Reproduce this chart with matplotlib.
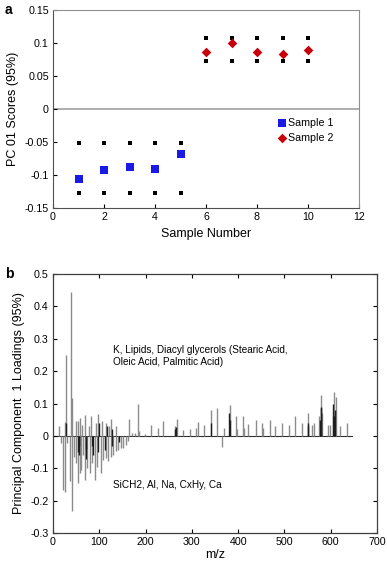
import numpy as np
import matplotlib
matplotlib.use("Agg")
import matplotlib.pyplot as plt

plt.rcParams['font.family'] = ['Liberation Sans', 'DejaVu Sans']
plt.rcParams['axes.unicode_minus'] = False

# panel a: PC 01 scores
s1_x = [1, 2, 3, 4, 5]
s1_y = [-0.106, -0.093, -0.088, -0.091, -0.068]
s1_hi = [-0.051, -0.051, -0.051, -0.051, -0.051]
s1_lo = [-0.128, -0.128, -0.128, -0.128, -0.128]

s2_x = [6, 7, 8, 9, 10]
s2_y = [0.086, 0.100, 0.087, 0.083, 0.089]
s2_hi = [0.107, 0.107, 0.107, 0.107, 0.107]
s2_lo = [0.072, 0.072, 0.072, 0.072, 0.072]

a_yticks = [-0.15, -0.1, -0.05, 0, 0.05, 0.1, 0.15]
a_ylabels = ['-0.15', '-0.1', '-0.05', '0', '0.05', '0.1', '0.15']

# panel b: PC 1 loadings (m/z, loading)
mz_gray = [13, 18, 22, 26, 27, 29, 31, 36, 39, 41, 42, 45, 49, 49, 53, 55, 58,
           58, 61, 63, 65, 69, 70, 74, 77, 79, 83, 84, 90, 92, 96, 97, 103, 105,
           108, 114, 114, 119, 120, 125, 126, 130, 136, 137, 141, 146, 152, 157,
           163, 164, 170, 177, 183, 186, 198, 211, 226, 238, 264, 267, 280, 297,
           310, 314, 326, 341, 355, 366, 369, 382, 395, 398, 410, 413, 422, 439,
           451, 454, 468, 480, 494, 509, 523, 538, 552, 560, 564, 575, 579, 582,
           595, 598, 604, 608, 611, 621, 635]
load_gray = [0.032, -0.023, -0.167, -0.172, 0.042, 0.25, -0.022, -0.14, 0.445,
             -0.233, 0.118, -0.064, 0.045, -0.084, -0.146, 0.045, -0.115, 0.055,
             -0.105, 0.035, -0.058, -0.136, 0.065, -0.10, 0.03, -0.115, 0.06,
             -0.084, -0.136, 0.04, -0.095, 0.068, -0.115, 0.045, -0.074, 0.04,
             -0.069, -0.079, 0.03, -0.064, 0.052, -0.059, -0.048, 0.03, -0.043,
             -0.038, -0.038, -0.028, -0.017, 0.052, 0.01, 0.008, 0.1, 0.015,
             0.006, 0.034, 0.024, 0.046, 0.029, 0.052, 0.019, 0.02, 0.024, 0.044,
             0.034, 0.08, 0.085, -0.033, 0.024, 0.095, 0.06, 0.02, 0.062, 0.025,
             0.036, 0.05, 0.04, 0.025, 0.05, 0.029, 0.04, 0.034, 0.06, 0.04, 0.07,
             0.035, 0.04, 0.06, 0.125, 0.07, 0.034, 0.033, 0.06, 0.135, 0.12,
             0.029, 0.04]
mz_dark = [28, 54, 56, 57, 71, 72, 84, 86, 98, 100, 112, 116, 127, 128, 142,
           264, 265, 341, 381, 382, 550, 551, 577, 578, 580, 606, 607, 609]
load_dark = [0.04, -0.05, -0.06, -0.03, -0.07, -0.04, -0.03, -0.06, -0.05, 0.04,
             -0.045, 0.03, -0.03, 0.02, -0.02, 0.02, 0.028, 0.04, 0.07, 0.05,
             0.04, 0.03, 0.05, 0.09, 0.085, 0.1, 0.06, 0.08]

W, H = 387, 562
fig = plt.figure(figsize=(W / 100, H / 100), dpi=100)

# ---- panel a
ax = fig.add_axes([53 / W, 1 - 208 / H, 306 / W, 198 / H])
ax.axhline(0, color='#a0a0a0', lw=1.2, zorder=1)
for xs, ys in [(s1_x, s1_hi), (s1_x, s1_lo), (s2_x, s2_hi), (s2_x, s2_lo)]:
    ax.scatter(xs, ys, s=6, marker='s', color='black', linewidths=0, zorder=3)
ax.scatter(s1_x, s1_y, s=26, marker='s', color='#1a1ae6', label='Sample 1',
           linewidths=0, zorder=4)
ax.scatter(s2_x, s2_y, s=24, marker='D', color='#c8000a', label='Sample 2',
           linewidths=0, zorder=4)
ax.set_xlim(0, 12)
ax.set_ylim(-0.15, 0.15)
ax.set_xticks(range(0, 13, 2))
ax.set_yticks(a_yticks)
ax.set_yticklabels(a_ylabels)
ax.tick_params(labelsize=7.7, length=3, width=0.8, direction='in', pad=3)
for side in ['top', 'right']:
    ax.spines[side].set_color('#909090')
for side in ['left', 'bottom']:
    ax.spines[side].set_color('#505050')
ax.set_xlabel('Sample Number', fontsize=9, labelpad=4)
ax.set_ylabel('PC 01 Scores (95%)', fontsize=9, labelpad=4)
ax.legend(loc='upper left', bbox_to_anchor=(0.72, 0.48), frameon=False,
          fontsize=7.7, handlelength=0.6, handletextpad=0.3, borderpad=0,
          labelspacing=0.4, scatterpoints=1)
fig.text(5 / W, 1 - 10 / H, 'a', fontsize=10, fontweight='bold', va='center')

# ---- panel b
bx = fig.add_axes([53 / W, 1 - 533 / H, 324 / W, 259 / H])
bx.axhline(0, color='#303030', lw=0.8, xmin=0, xmax=645 / 700, zorder=1)
bx.vlines(mz_gray, 0, load_gray, color='#8c8c8c', lw=1.0, zorder=2)
bx.vlines(mz_dark, 0, load_dark, color='#1e1e1e', lw=1.0, zorder=3)
bx.set_xlim(0, 700)
bx.set_ylim(-0.3, 0.5)
bx.set_xticks(range(0, 701, 100))
b_yticks = [-0.3, -0.2, -0.1, 0, 0.1, 0.2, 0.3, 0.4, 0.5]
bx.set_yticks(b_yticks)
bx.set_yticklabels(['-0.3', '-0.2', '-0.1', '0', '0.1', '0.2', '0.3', '0.4', '0.5'])
bx.tick_params(labelsize=7.7, length=3, width=0.8, direction='in', pad=3,
               top=True, right=True)
for side in bx.spines.values():
    side.set_color('#404040')
    side.set_linewidth(0.9)
bx.set_xlabel('m/z', fontsize=9, labelpad=1)
bx.set_ylabel('Principal Component  1 Loadings (95%)', fontsize=9, labelpad=4)
bx.text(129, 0.28, 'K, Lipids, Diacyl glycerols (Stearic Acid,\nOleic Acid, Palmitic Acid)',
        fontsize=7.2, va='top', ha='left', linespacing=1.25)
bx.text(130, -0.151, 'SiCH2, Al, Na, CxHy, Ca', fontsize=7.2, va='center', ha='left')
fig.text(5 / W, 1 - 274 / H, 'b', fontsize=10, fontweight='bold', va='center')

fig.savefig('out.png', dpi=100)
